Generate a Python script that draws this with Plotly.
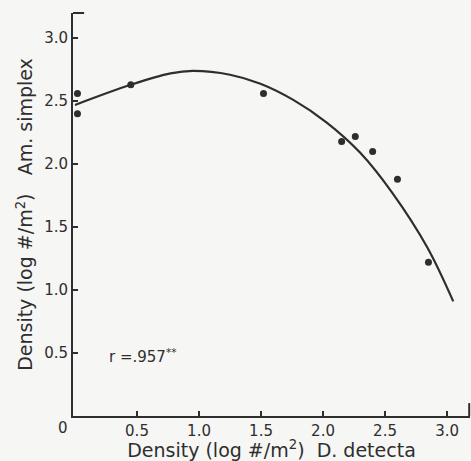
import plotly.graph_objects as go

# observed data points (log density)
d_detecta = [0.02, 0.02, 0.45, 1.52, 2.15, 2.26, 2.40, 2.60, 2.85]
am_simplex = [2.56, 2.40, 2.63, 2.56, 2.18, 2.22, 2.10, 1.88, 1.22]

# fitted curve
curve_x = [0.0, 0.45, 0.77, 0.95, 1.25, 1.49, 1.76, 2.03, 2.30, 2.56, 2.84, 3.05]
curve_y = [2.47, 2.63, 2.72, 2.74, 2.71, 2.64, 2.51, 2.33, 2.09, 1.77, 1.34, 0.91]

x_ticks = [0.5, 1.0, 1.5, 2.0, 2.5, 3.0]
x_tick_text = ["0.5", "1.0", "1.5", "2.0", "2.5", "3.0"]
y_ticks = [0.5, 1.0, 1.5, 2.0, 2.5, 3.0]
y_tick_text = ["0.5", "1.0", "1.5", "2.0", "2.5", "3.0"]

ink = "#2e2e2e"
bg = "#f6f6f4"
font = "DejaVu Sans"

fig = go.Figure()
fig.add_trace(go.Scatter(x=curve_x, y=curve_y, mode="lines",
                         line=dict(color=ink, width=2.2, shape="spline", smoothing=1.0),
                         showlegend=False, hoverinfo="skip"))
fig.add_trace(go.Scatter(x=d_detecta, y=am_simplex, mode="markers",
                         marker=dict(color=ink, size=7),
                         showlegend=False))

fig.update_layout(
    width=471, height=461,
    margin=dict(l=73, r=1, t=13, b=45),
    paper_bgcolor=bg, plot_bgcolor=bg,
    font=dict(family=font, color=ink, size=15),
    xaxis=dict(range=[-0.016, 3.185], tickvals=x_ticks, ticktext=x_tick_text,
               ticks="inside", ticklen=5, tickwidth=1.5, tickcolor=ink,
               showline=True, linecolor=ink, linewidth=2, showgrid=False, zeroline=False,
               tickfont=dict(size=15, family=font, color=ink),
               title=dict(text="Density (log #/m<sup>2</sup>)  D. detecta",
                          font=dict(size=19, family=font, color=ink), standoff=2)),
    yaxis=dict(range=[0, 3.2], tickvals=y_ticks, ticktext=y_tick_text,
               ticks="inside", ticklen=5, tickwidth=1.5, tickcolor=ink,
               showline=True, linecolor=ink, linewidth=2, showgrid=False, zeroline=False,
               tickfont=dict(size=15, family=font, color=ink),
               title=dict(text="Density (log #/m<sup>2</sup>)   Am. simplex",
                          font=dict(size=19, family=font, color=ink), standoff=6)),
    annotations=[
        dict(x=0.26, y=0.48, xref="x", yref="y", xanchor="left", yanchor="middle",
             text="r =.957<sup>**</sup>", showarrow=False,
             font=dict(size=15, family=font, color=ink)),
        dict(x=-0.025, y=-0.03, xref="paper", yref="paper", xanchor="center", yanchor="middle",
             text="0", showarrow=False, font=dict(size=15, family=font, color=ink)),
    ],
    shapes=[
        dict(type="line", xref="paper", yref="paper", x0=0, x1=0.028, y0=1, y1=1,
             line=dict(color=ink, width=2)),
        dict(type="line", xref="paper", yref="paper", x0=0.998, x1=0.998, y0=0, y1=0.032,
             line=dict(color=ink, width=2)),
    ],
)

fig.write_html("out.html")
